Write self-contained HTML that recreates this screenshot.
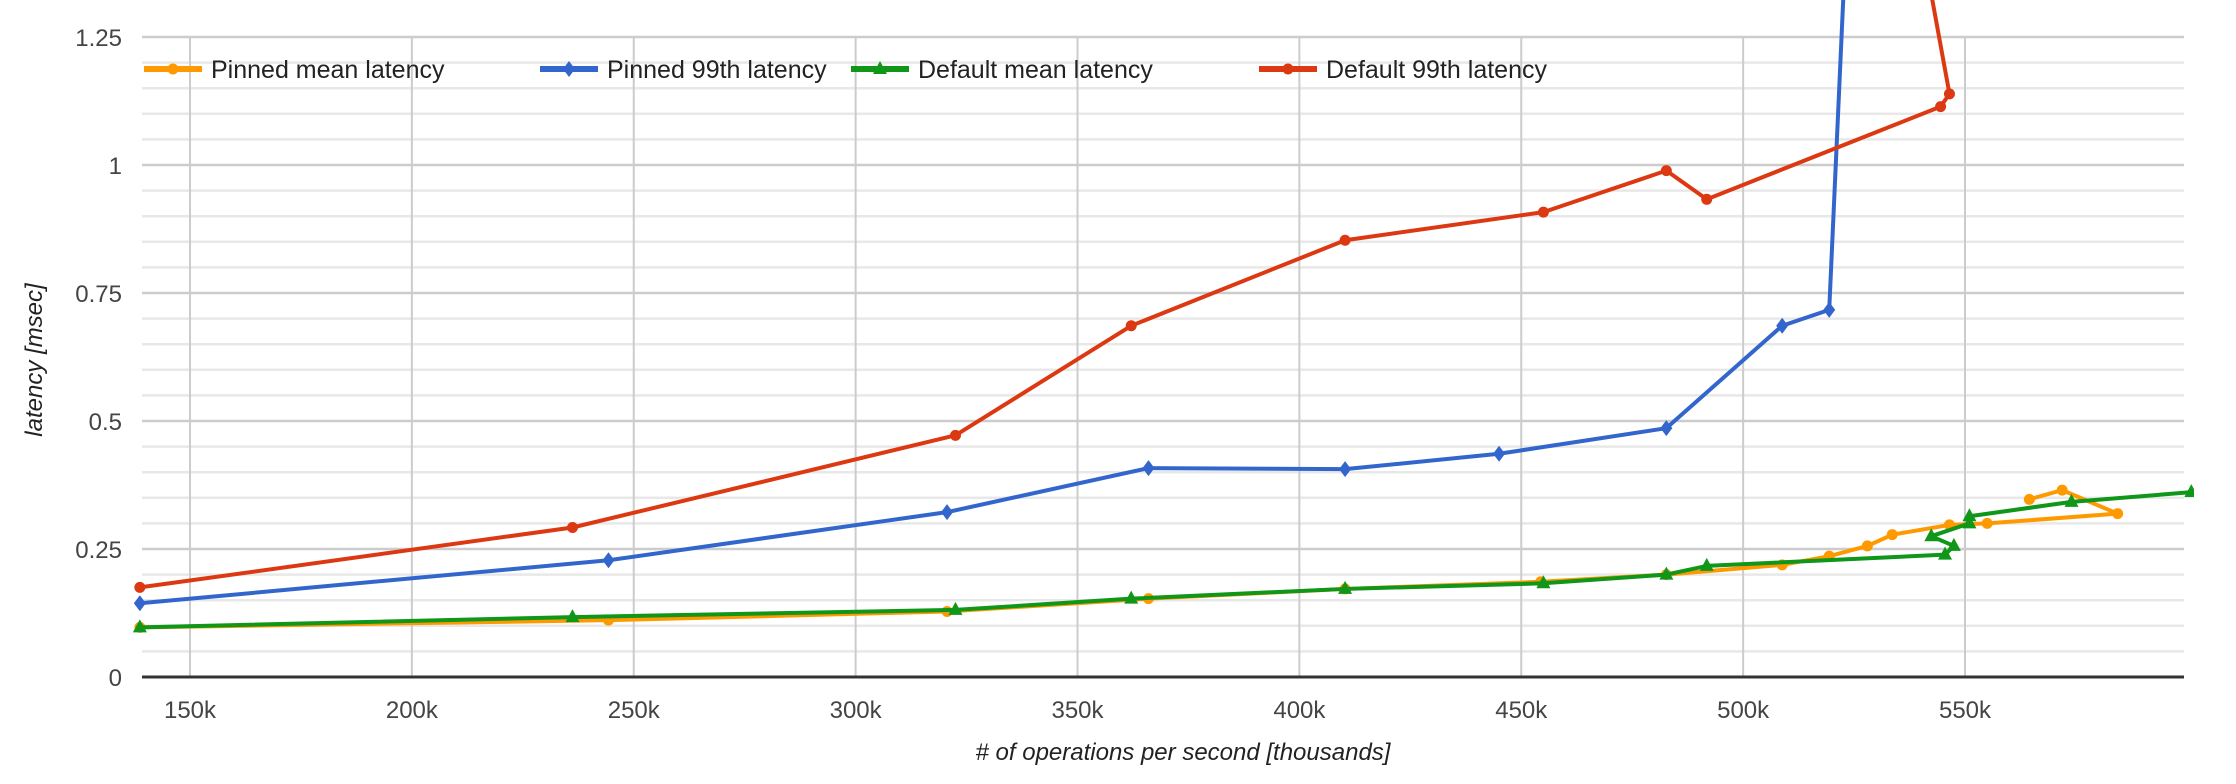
<!DOCTYPE html>
<html><head><meta charset="utf-8"><style>
html,body{margin:0;padding:0;background:#fff;}
svg{display:block;font-family:"Liberation Sans",Arial,sans-serif;}
</style></head><body>
<svg id="chart" width="2236" height="784" viewBox="0 0 2236 784">
<g id="grid"></g>
<g id="axes"></g>
<g id="series"></g>
<g id="legend"></g>
<text x="1183" y="760" text-anchor="middle" font-size="24" font-style="italic" fill="#222"># of operations per second [thousands]</text>
<text x="0" y="0" transform="translate(42,360) rotate(-90)" text-anchor="middle" font-size="24" font-style="italic" fill="#222">latency [msec]</text>
</svg>
<script>
const xTicks = [150,200,250,300,350,400,450,500,550];
const xTickLabels = ["150k","200k","250k","300k","350k","400k","450k","500k","550k"];
const yTicks = [0,0.25,0.5,0.75,1,1.25];
const yTickLabels = ["0","0.25","0.5","0.75","1","1.25"];
const seriesNames = ["Pinned mean latency","Pinned 99th latency","Default mean latency","Default 99th latency"];
const pinnedMeanX = [138.7,244.3,320.6,366,410.3,454.4,482.7,508.8,519.4,528,533.6,546.5,555,584.4,571.9,564.5];
const pinnedMeanY = [0.097,0.111,0.128,0.153,0.172,0.186,0.2,0.219,0.236,0.256,0.278,0.297,0.3,0.319,0.365,0.347];
const pinned99X = [138.7,244.3,320.6,366,410.3,445,482.7,508.8,519.4,524];
const pinned99Y = [0.144,0.228,0.322,0.408,0.406,0.436,0.486,0.686,0.717,1.6];
const defMeanX = [138.7,236.2,322.5,362.1,410.3,455,482.7,491.8,545.5,547.5,542.4,551,551,574,601];
const defMeanY = [0.097,0.117,0.131,0.153,0.172,0.183,0.2,0.217,0.239,0.256,0.275,0.3,0.314,0.342,0.361];
const def99X = [138.7,236.2,322.5,362.1,410.3,455,482.7,491.8,544.5,546.5,541];
const def99Y = [0.175,0.292,0.472,0.686,0.853,0.908,0.989,0.933,1.114,1.139,1.4];

const L=142, R=2184, T=37, B=677;
const xS = v => 190 + (v-150)*4.4375;
const yS = v => 677 - v*512;
const NS="http://www.w3.org/2000/svg";
function mk(tag, attrs, parent){const e=document.createElementNS(NS,tag);for(const k in attrs)e.setAttribute(k,attrs[k]);parent.appendChild(e);return e;}
const grid=document.getElementById('grid'), axes=document.getElementById('axes'), ser=document.getElementById('series'), leg=document.getElementById('legend');

for(let v=0.05; v<1.26; v+=0.05){
  const major=Math.abs(v/0.25-Math.round(v/0.25))<1e-6;
  const g=mk('line',{x1:L,x2:R,y1:yS(v),y2:yS(v),stroke:major?'#cccccc':'#e8e8e8','stroke-width':major?2.5:2.5},grid);
  
  
}
xTicks.forEach((t,i)=>{
  const g=mk('line',{x1:xS(t),x2:xS(t),y1:T,y2:B,stroke:'#cccccc','stroke-width':2},grid);
  
  
  const tx=mk('text',{x:xS(t),y:718,'text-anchor':'middle','font-size':24,fill:'#444'},axes);
  tx.textContent=xTickLabels[i];
  
  
});
yTicks.forEach((t,i)=>{
  const tx=mk('text',{x:122,y:yS(t)+9,'text-anchor':'end','font-size':24,fill:'#444'},axes);
  tx.textContent=yTickLabels[i];
  
  
});
const base=mk('line',{x1:L,x2:R,y1:B,y2:B,stroke:'#333','stroke-width':3},axes);



const clip=mk('clipPath',{id:'pc'},document.getElementById('chart'));
mk('rect',{x:L-10,y:0,width:R-L+20,height:B+10},clip);
ser.setAttribute('clip-path','url(#pc)');

function marker(kind,x,y,color,parent){
  let m;
  if(kind==='circle') m=mk('circle',{cx:x,cy:y,r:5.5,fill:color},parent);
  else if(kind==='diamond') m=mk('polygon',{points:`${x},${y-8} ${x+6},${y} ${x},${y+8} ${x-6},${y}`,fill:color},parent);
  else m=mk('polygon',{points:`${x},${y-8} ${x+7},${y+5} ${x-7},${y+5}`,fill:color},parent);
  return m;
}
function drawSeries(xs,ys,color,kind,name){
  const g=mk('g',{},ser);
  
  
  const pts=xs.map((x,i)=>xS(x)+','+yS(ys[i])).join(' ');
  const pl=mk('polyline',{points:pts,fill:'none',stroke:color,'stroke-width':4,'stroke-linejoin':'round'},g);
  
  
  xs.forEach((x,i)=>{
    const m=marker(kind,xS(x),yS(ys[i]),color,g);
    
    
  });
}
drawSeries(pinnedMeanX,pinnedMeanY,'#ff9900','circle','pinned-mean-series');
drawSeries(defMeanX,defMeanY,'#109618','triangle','default-mean-series');
drawSeries(pinned99X,pinned99Y,'#3366cc','diamond','pinned-99th-series');
drawSeries(def99X,def99Y,'#dc3912','circle','default-99th-series');

const legX=[144,540,851,1259], colors=['#ff9900','#3366cc','#109618','#dc3912'], kinds=['circle','diamond','triangle','circle'];
seriesNames.forEach((n,i)=>{
  const g=mk('g',{},leg);
  
  
  mk('line',{x1:legX[i],x2:legX[i]+58,y1:69,y2:69,stroke:colors[i],'stroke-width':6},g);
  marker(kinds[i],legX[i]+29,69,colors[i],g);
  const t=mk('text',{x:legX[i]+67,y:78,'font-size':25,fill:'#222'},g);
  t.textContent=n;
  
  
});
</script>
</body></html>
